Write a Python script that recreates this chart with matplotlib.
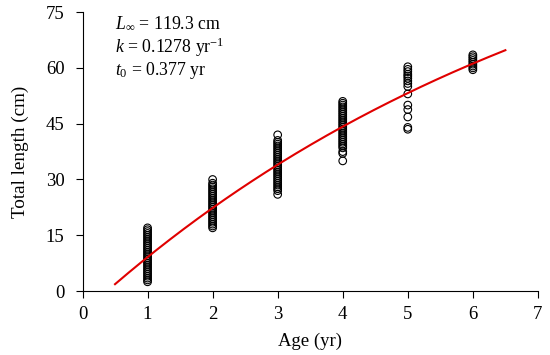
import matplotlib
matplotlib.use("Agg")
import matplotlib.pyplot as plt
import numpy as np

# ---- data ----
age1 = [2.5, 3, 3.5, 4, 4.5, 5, 5.5, 6, 6.5, 7, 7.5, 8, 8.5, 9, 9.5, 10, 10.5, 11,
        11.5, 12, 12.5, 13, 13.5, 14, 14.5, 15, 15.5, 16, 16.5, 17]
age2 = [17, 17.5, 18, 18.5, 19, 19.5, 20, 20.5, 21, 21.5, 22, 22.5, 23, 23.5, 24,
        24.5, 25, 25.5, 26, 26.5, 27, 27.5, 28, 28.5, 29, 30]
age3 = [26, 27, 27.5, 28, 28.5, 29, 29.5, 30, 30.5, 31, 31.5, 32, 32.5, 33, 33.5,
        34, 34.5, 35, 35.5, 36, 36.5, 37, 37.5, 38, 38.5, 39, 39.5, 40, 40.5, 42]
age4 = [35, 37, 37.5, 38.5, 39, 39.5, 40, 40.5, 41, 41.5, 42, 42.5, 43, 43.5, 44,
        44.5, 45, 45.5, 46, 46.5, 47, 47.5, 48, 48.5, 49, 49.5, 50, 50.5, 51]
age5 = [43.5, 44, 46.8, 48.8, 50, 53, 55, 55.8, 56.5, 57.2, 57.8, 58.3, 59, 59.6, 60.3]
age6 = [59.5, 60, 60.5, 61, 61.5, 62, 62.5, 63, 63.5]
groups = {1: age1, 2: age2, 3: age3, 4: age4, 5: age5, 6: age6}

# von Bertalanffy parameters shown on the chart
L_inf = 119.3
k = 0.1278
t0 = 0.377
t_start, t_end = 0.5, 6.5

x_ticks = [0, 1, 2, 3, 4, 5, 6, 7]
y_ticks = [0, 15, 30, 45, 60, 75]

plt.rcParams['font.family'] = ['Liberation Serif', 'DejaVu Serif']
plt.rcParams['mathtext.fontset'] = 'custom'
plt.rcParams['mathtext.rm'] = 'Liberation Serif'
plt.rcParams['mathtext.it'] = 'Liberation Serif:italic'

fig = plt.figure(figsize=(5.5, 3.55), dpi=100)
ax = fig.add_axes([0.150, 0.180, 0.828, 0.786])

for a, vals in groups.items():
    ax.scatter([a] * len(vals), vals, s=30, facecolors='none', edgecolors='black',
               linewidths=0.8, zorder=2)

t = np.linspace(t_start, t_end, 200)
L = L_inf * (1 - np.exp(-k * (t - t0)))
ax.plot(t, L, color='#e00000', lw=1.5, zorder=3)

ax.set_xlim(0, 7)
ax.set_ylim(0, 75)
ax.set_xticks(x_ticks)
ax.set_yticks(y_ticks)
ax.tick_params(direction='out', length=5, width=0.8, labelsize=13.5)
ax.tick_params(axis='y', pad=8)
ax.tick_params(axis='x', pad=6)
for s in ['top', 'right']:
    ax.spines[s].set_visible(False)
for s in ['left', 'bottom']:
    ax.spines[s].set_linewidth(0.8)

ax.set_xlabel('Age (yr)', fontsize=13.5, labelpad=7)
ax.set_ylabel('Total length (cm)', fontsize=13.8, labelpad=12)

ax.text(0.071, 0.958, r'$L_{\infty}$ = 119.3 cm', transform=ax.transAxes,
        fontsize=12.8, va='center')
ax.text(0.071, 0.873, r'$k$ = 0.1278 yr$^{-1}$', transform=ax.transAxes,
        fontsize=12.8, va='center')
ax.text(0.071, 0.790, r'$t_{0}$ = 0.377 yr', transform=ax.transAxes,
        fontsize=12.8, va='center')

fig.savefig('out.png', dpi=100)
